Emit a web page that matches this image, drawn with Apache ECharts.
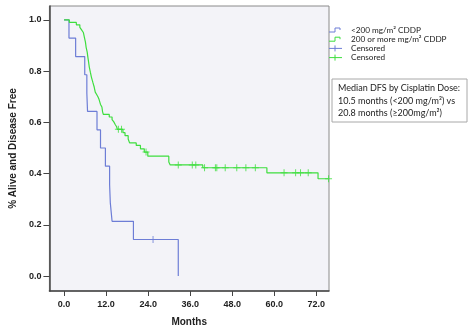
<!DOCTYPE html>
<html><head><meta charset="utf-8">
<script src="https://cdn.jsdelivr.net/npm/echarts@6/dist/echarts.min.js"></script>
<style>html,body{margin:0;padding:0;background:#fff}#c{width:474px;height:332px}</style>
</head><body><div id="c"></div>
<script>
const xTicks = [0, 12, 24, 36, 48, 60, 72];
const yTicks = [0, 0.2, 0.4, 0.6, 0.8, 1.0];
const seriesNames = ['<200 mg/m\u00b2 CDDP', '200 or more mg/m\u00b2 CDDP'];
const censorLabel = 'Censored';
const lowDoseSteps = [[0,1],[1.4,0.929],[3.3,0.857],[5.9,0.786],[6.5,0.714],[6.7,0.643],[9.4,0.571],[10.4,0.5],[11.8,0.429],[13.0,0.357],[13.2,0.286],[13.7,0.214],[19.8,0.143],[32.6,0]];
const lowDoseCensored = [[25.4,0.143]];
const highDoseSteps = [[0,1],[1.5,0.990],[3.5,0.981],[4.5,0.971],[5.0,0.961],[5.5,0.951],[5.8,0.932],[6.1,0.913],[6.3,0.893],[6.6,0.874],[6.8,0.854],[7.0,0.835],[7.2,0.816],[7.5,0.796],[7.8,0.777],[8.2,0.757],[8.6,0.738],[8.9,0.718],[9.3,0.709],[9.7,0.699],[10.0,0.689],[10.4,0.670],[10.8,0.660],[11.0,0.641],[11.2,0.631],[12.9,0.621],[13.7,0.611],[14.2,0.602],[14.6,0.592],[15.0,0.583],[15.2,0.573],[16.8,0.560],[17.4,0.548],[18.3,0.535],[18.7,0.520],[20.6,0.510],[21.8,0.497],[22.9,0.484],[23.9,0.468],[29.9,0.445],[30.3,0.434],[39.6,0.423],[57.9,0.403],[72.5,0.380],[75.5,0.380]];
const highDoseCensored = [[15.5,0.573],[16.4,0.573],[23.4,0.484],[32.6,0.434],[36.6,0.434],[37.6,0.434],[40.1,0.423],[43.2,0.423],[43.6,0.423],[46.0,0.423],[49.3,0.423],[51.9,0.423],[54.6,0.423],[62.8,0.403],[66.1,0.403],[67.5,0.403],[69.7,0.403],[75.5,0.380]];
const noteLines = ['Median DFS by Cisplatin Dose:', '10.5 months (<200 mg/m\u00b2) vs', '20.8 months (\u2265200mg/m\u00b2)'];

const BLUE = '#6d7dd6', GREEN = '#3ede3e';
const cross = 'path://M-0.5,-3.5H0.5V-0.5H3.5V0.5H0.5V3.5H-0.5V0.5H-3.5V-0.5H-0.5Z';
const chart = echarts.init(document.getElementById('c'), null, {renderer: 'canvas'});

const legendGraphics = [];
const lx = 329, ly = 30, lgap = 9.2;
[BLUE, GREEN].forEach((c, i) => {
  const y = ly + i * lgap;
  legendGraphics.push({type: 'polyline', shape: {points: [[lx, y + 2], [lx + 6, y + 2], [lx + 6, y - 2], [lx + 11, y - 2], [lx + 11, y]]}, style: {stroke: c, lineWidth: 1, fill: null}});
  legendGraphics.push({type: 'text', x: lx + 22, y: y, style: {text: seriesNames[i], font: '8.2px Lato', fill: '#222', verticalAlign: 'middle'}});
});
[BLUE, GREEN].forEach((c, i) => {
  const y = ly + (i + 2) * lgap;
  legendGraphics.push({type: 'line', shape: {x1: lx, y1: y, x2: lx + 13, y2: y}, style: {stroke: c, lineWidth: 1}});
  legendGraphics.push({type: 'line', shape: {x1: lx + 6, y1: y - 3, x2: lx + 6, y2: y + 3}, style: {stroke: c, lineWidth: 1}});
  legendGraphics.push({type: 'text', x: lx + 22, y: y, style: {text: censorLabel, font: '8.2px Lato', fill: '#222', verticalAlign: 'middle'}});
});

const axisCommon = {
  type: 'value',
  axisLine: {show: true, onZero: false, lineStyle: {color: '#444', width: 1.5}},
  splitLine: {show: false},
  nameLocation: 'middle',
  nameTextStyle: {fontFamily: 'Liberation Sans', fontWeight: 'bold', fontSize: 10, color: '#222'}
};

chart.setOption({
  animation: false,
  backgroundColor: '#fff',
  grid: {left: 43, top: 6, width: 286, height: 287, show: true, backgroundColor: '#f3f3f8', borderColor: '#8a8a8a', borderWidth: 1},
  xAxis: Object.assign({}, axisCommon, {
    min: -4.186, max: 75.63,
    name: 'Months', nameGap: 26,
    axisTick: {show: true, customValues: xTicks, length: 5, lineStyle: {color: '#444', width: 1}},
    axisLabel: {customValues: xTicks, formatter: v => v.toFixed(1), fontFamily: 'Liberation Sans', fontWeight: 'bold', fontSize: 9, color: '#222', margin: 9}
  }),
  yAxis: Object.assign({}, axisCommon, {
    min: -0.0581, max: 1.0543,
    name: '% Alive and Disease Free', nameGap: 28,
    axisTick: {show: true, customValues: yTicks, length: 6, lineStyle: {color: '#444', width: 1}},
    axisLabel: {customValues: yTicks, formatter: v => v.toFixed(1), fontFamily: 'Liberation Sans', fontWeight: 'bold', fontSize: 9, color: '#222', margin: 8}
  }),
  series: [
    {name: seriesNames[0], type: 'line', step: 'end', data: lowDoseSteps, showSymbol: false, lineStyle: {color: BLUE, width: 1.2}, itemStyle: {color: BLUE}, z: 3},
    {name: seriesNames[1], type: 'line', step: 'end', data: highDoseSteps, showSymbol: false, lineStyle: {color: GREEN, width: 1.2}, itemStyle: {color: GREEN}, z: 3},
    {name: censorLabel, type: 'scatter', data: lowDoseCensored, symbol: cross, symbolSize: [7, 7], itemStyle: {color: BLUE}, z: 4},
    {name: censorLabel + ' ', type: 'scatter', data: highDoseCensored, symbol: cross, symbolSize: [7, 7], itemStyle: {color: GREEN}, z: 4}
  ],
  graphic: legendGraphics.concat([
    {type: 'rect', shape: {x: 332, y: 79, width: 135, height: 43}, style: {fill: '#fff', stroke: '#a8a8a8', lineWidth: 1}},
    {type: 'text', x: 338, y: 82, style: {text: noteLines.join('\n'), font: '9px Lato', lineHeight: 12.5, fill: '#222'}}
  ])
});
</script></body></html>
